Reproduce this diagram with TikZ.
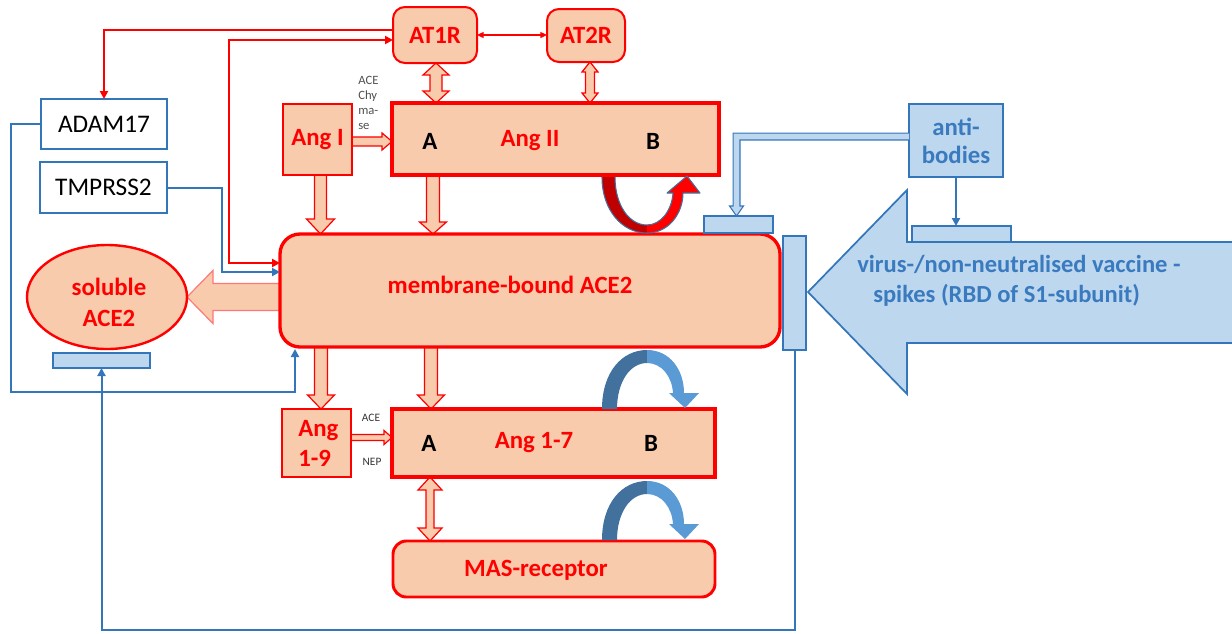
\documentclass[tikz,border=0pt]{standalone}
\usepackage{fontspec}
\setmainfont{Carlito}
\usetikzlibrary{calc,arrows.meta,shapes.geometric}
\pgfdeclarelayer{bg}
\pgfsetlayers{bg,main}

\definecolor{peach}{RGB}{248,203,173}
\definecolor{lblue}{RGB}{189,215,238}
\definecolor{bline}{RGB}{52,118,186}
\definecolor{btext}{RGB}{58,122,190}
\definecolor{dblue}{RGB}{65,113,156}
\definecolor{mblue}{RGB}{91,155,213}
\definecolor{dred}{RGB}{192,0,0}
\definecolor{lred}{RGB}{255,120,120}
\definecolor{note}{RGB}{80,80,80}

\tikzset{
  sz/.style 2 args={minimum width={(#1)*0.75pt},minimum height={(#2)*0.75pt}},
  bx0/.style={inner sep=0pt,outer sep=0pt},
  bigfont/.style={font=\fontsize{18.6}{22}\selectfont\bfseries},
  redbox/.style={bx0,draw=red,fill=peach,line width=2.3pt},
  thinred/.style={bx0,draw=red,fill=peach,line width=1.5pt},
  recbox/.style={bx0,draw=red,fill=peach,line width=1.5pt,rounded corners=9pt,bigfont,text=red},
  enzbox/.style={bx0,draw=bline,fill=white,line width=1.6pt,font=\fontsize{19}{22}\selectfont},
  bluebar/.style={bx0,draw=bline,fill=lblue,line width=1.3pt},
  redlbl/.style={bigfont,text=red,inner sep=0pt},
  blklbl/.style={bigfont,text=black,inner sep=0pt},
  bluelbl/.style={bigfont,text=btext,inner sep=0pt},
  small/.style={font=\fontsize{9.5}{11.25}\selectfont,text=note,inner sep=0pt,align=left},
  blk/.style={draw=red,fill=peach,line width=0.9pt,line join=miter},
  redline/.style={draw=red,line width=1.5pt,-{Triangle[length=6pt,width=6pt]}},
  blueline/.style={draw=bline,line width=1.5pt,-{Triangle[length=6pt,width=6pt]}},
}

% block arrows: start, end, shaft half width, head half width, head length
\newcommand\blkdown[5]{\path[blk] let \p1=(#1),\p2=(#2) in
  ({\x1-#3},\y1) -- ({\x1-#3},{\y2+#5}) -- ({\x1-#4},{\y2+#5}) -- (\x1,\y2)
  -- ({\x1+#4},{\y2+#5}) -- ({\x1+#3},{\y2+#5}) -- ({\x1+#3},\y1);}
\newcommand\blkboth[5]{\path[blk] let \p1=(#1),\p2=(#2) in
  ({\x1-#3},{\y1-#5}) -- ({\x1-#4},{\y1-#5}) -- (\x1,\y1) -- ({\x1+#4},{\y1-#5}) -- ({\x1+#3},{\y1-#5})
  -- ({\x1+#3},{\y2+#5}) -- ({\x1+#4},{\y2+#5}) -- (\x1,\y2) -- ({\x1-#4},{\y2+#5}) -- ({\x1-#3},{\y2+#5}) -- cycle;}
\newcommand\blkright[5]{\path[blk] let \p1=(#1),\p2=(#2) in
  (\x1,{\y1+#3}) -- ({\x2-#5},{\y1+#3}) -- ({\x2-#5},{\y1+#4}) -- (\x2,\y1)
  -- ({\x2-#5},{\y1-#4}) -- ({\x2-#5},{\y1-#3}) -- (\x1,{\y1-#3});}
\newcommand\blkleft[6]{\path[blk,#6] let \p1=(#1),\p2=(#2) in
  (\x1,{\y1+#3}) -- ({\x2+#5},{\y1+#3}) -- ({\x2+#5},{\y1+#4}) -- (\x2,\y1)
  -- ({\x2+#5},{\y1-#4}) -- ({\x2+#5},{\y1-#3}) -- (\x1,{\y1-#3});}
% hollow elbow arrow: horizontal from #1 leftwards, then down to #2
\newcommand\abarrow[5]{\path[draw=bline,fill=lblue,line width=0.8pt] let \p1=(#1),\p2=(#2) in
  (\x1,{\y1+#3}) -- ({\x2-#3},{\y1+#3}) -- ({\x2-#3},{\y2+#5}) -- ({\x2-#4},{\y2+#5}) -- (\x2,\y2)
  -- ({\x2+#4},{\y2+#5}) -- ({\x2+#3},{\y2+#5}) -- ({\x2+#3},{\y1-#3}) -- (\x1,{\y1-#3});}
% curled blue arrow over a box top edge
\newcommand\bluecurl[1]{\begin{scope}[shift={(0,#1)}]
  \fill[dblue] (602,409) .. controls (602,372) and (622,350) .. (647,350) -- (647,363)
    .. controls (630,363) and (617,382) .. (617,409) -- cycle;
  \fill[mblue] (647,350) .. controls (670,350) and (684,370) .. (684,393) -- (699,393) -- (685,408)
    -- (669,393) -- (673,393) .. controls (672,377) and (662,363) .. (647,363) -- cycle;
\end{scope}}

\begin{document}
\begin{tikzpicture}[x=0.75pt,y=-0.75pt]
\useasboundingbox (0,0) rectangle (1232,633);
\clip (0,0) rectangle (1232,633);

% spike protein arrow
\filldraw[fill=lblue,draw=bline,line width=1.3pt]
  (1240,242) -- (907,242) -- (907,190) -- (808,292) -- (907,394) -- (907,343) -- (1240,343);
\node[bluelbl,align=left,anchor=west,font=\fontsize{18.4}{22.5}\selectfont\bfseries] (spike) at (857,281)
  {virus-/non-neutralised vaccine -\\\hspace*{12pt}spikes (RBD of S1-subunit)};

% receptors
\node[recbox,sz={84}{56}] (at1r) at (435,35) {AT1R};
\node[recbox,sz={78}{53}] (at2r) at (586,35.5) {AT2R};

% enzymes
\node[enzbox,sz={126}{50}] (adam) at (104,124) {ADAM17};
\node[enzbox,sz={127}{51}] (tmprss) at (103.5,187.5) {TMPRSS2};

% angiotensins
\node[thinred,sz={69}{71},redlbl,text=red] (angI) at (317.5,139.5) {Ang I};
\node[redbox,sz={327}{72}] (angII) at (555.5,139) {};
\node[blklbl] (angIIa) at (430,141) {A};
\node[redlbl] (angIIt) at (530,141) {Ang II};
\node[blklbl] (angIIb) at (653,141) {B};

\node[redbox,rounded corners=15pt,line width=2.5pt,sz={500}{113}] (ace2) at (530,290.5) {};
\node[redlbl] (ace2t) at (510,285) {membrane-bound ACE2};

\node[ellipse,bx0,draw=red,fill=peach,line width=1.8pt,sz={160}{104}] (sol) at (107,297) {};
\node[redlbl,align=center,font=\fontsize{18.6}{23.25}\selectfont\bfseries] (solt) at (109,302.5) {soluble\\ACE2};
\node[bluebar,sz={97}{15}] (solbar) at (101.5,360.5) {};

\node[bx0,draw=red,fill=peach,line width=1.3pt,sz={69}{68}] (ang19) at (316.5,443) {};
\node[redlbl,align=left,anchor=west,font=\fontsize{18.6}{22.5}\selectfont\bfseries] (ang19t) at (298,443) {Ang\\1-9};
\node[redbox,sz={323}{68}] (ang17) at (553.5,443) {};
\node[blklbl] (ang17a) at (429,443) {A};
\node[redlbl] (ang17t) at (534,443) {Ang 1-7};
\node[blklbl] (ang17b) at (651,443) {B};

\node[redbox,rounded corners=10pt,line width=2.2pt,sz={322}{56}] (mas) at (554,569) {};
\node[redlbl] (mast) at (536,570) {MAS-receptor};

% antibodies and binding sites
\node[bx0,draw=bline,fill=lblue,line width=1.6pt,sz={94}{73},bluelbl,align=center,
      font=\fontsize{18.6}{21}\selectfont\bfseries] (ab) at (956,140.5) {anti-\\bodies};
\node[bluebar,sz={69}{17}] (topbar) at (738.5,224.5) {};
\node[bluebar,sz={23}{114}] (sidebar) at (794.5,293) {};
\node[bluebar,sz={99}{16}] (abbar) at (961.5,234) {};

% enzyme labels
\node[small,anchor=north west] (cat1) at (358,76) {ACE\\Chy\\ma-\\se};
\node[small,font=\fontsize{8.5}{10}\selectfont,text=black!80] (cat2) at (371,418) {ACE};
\node[small,font=\fontsize{8.5}{10}\selectfont,text=black!80] (cat3) at (372,462) {NEP};

% anchor points for the block arrows
\coordinate (aIs) at ($(angI.south)+(3,0)$);
\coordinate (aIIs) at ($(angII.south west)+(41,0)$);
\coordinate (aIIn1) at ($(angII.north west)+(44,0)$);
\coordinate (aIIn2) at ($(angII.north west)+(198,0)$);
\coordinate (acs1) at ($(ace2.south west)+(41,0)$);
\coordinate (acs2) at ($(ace2.south west)+(151,0)$);
\coordinate (a17s) at ($(ang17.south west)+(38,0)$);
\coordinate (aIe) at ($(angI.east)+(0,2)$);
\coordinate (a19e) at ($(ang19.east)+(0,-5.5)$);
\coordinate (acw) at ($(ace2.west)+(0,6.5)$);
\coordinate (abw) at ($(ab.west)+(0,-4)$);
\coordinate (tbn) at ($(topbar.north)+(-2,0)$);

\begin{pgfonlayer}{bg}
  \blkdown{aIs}{aIs |- ace2.north}{4.5pt}{10.5pt}{11.25pt}
  \blkdown{aIIs}{aIIs |- ace2.north}{4.9pt}{10.1pt}{9pt}
  \blkboth{aIIn1 |- at1r.south}{aIIn1}{4.5pt}{9.75pt}{9pt}
  \blkboth{aIIn2 |- at2r.south}{aIIn2}{3.4pt}{6pt}{7.5pt}
  \blkdown{acs1}{acs1 |- ang19.north}{4.9pt}{10.1pt}{10.5pt}
  \blkdown{acs2}{acs2 |- ang17.north}{4.9pt}{10.1pt}{10.5pt}
  \blkboth{a17s}{a17s |- mas.north}{3pt}{9pt}{9.75pt}
  \blkright{aIe}{aIe -| angII.west}{3.4pt}{6.4pt}{7.5pt}
  \blkright{a19e}{a19e -| ang17.west}{2.25pt}{5.25pt}{6pt}
  \blkleft{acw}{acw -| sol.east}{10.1pt}{19.9pt}{19.5pt}{draw=lred}
\end{pgfonlayer}

\abarrow{abw}{tbn}{2.6pt}{5.25pt}{7.5pt}

% red signalling lines
\coordinate (r1) at ($(at1r.north west)+(0,33)$);
\coordinate (r2) at ($(ace2.north west)+(0,29)$);
\draw[redline] ($(at1r.north west)+(0,23)$) -| (adam.north);
\draw[redline,{Triangle[length=6pt,width=6pt]}-{Triangle[length=6pt,width=6pt]}]
  (r2) -| ($(r1)+(-164,0)$) -- (r1);
\draw[red,line width=0.9pt,{Triangle[length=5pt,width=4.5pt]}-{Triangle[length=5pt,width=4.5pt]}]
  (at1r.east) -- (at1r.east -| at2r.west);

% blue lines
\coordinate (b1) at ($(ace2.north west)+(0,38)$);
\draw[blueline] (tmprss.east) -- ++(55,0) |- (b1);
\draw[blueline] (adam.west) -- ++(-30,0) |- ($(ace2.south west)+(15,45)$) -- ($(ace2.south west)+(15,2)$);
\draw[blueline] (sidebar.south) -- ++(0,280) -| (solbar.south);
\draw[blueline,line width=1.8pt] (ab.south) -- (ab.south |- abbar.north);

% curled arrows
\fill[dred] (602,177) .. controls (602,210) and (622,233) .. (647,233) -- (647,225)
  .. controls (629,225) and (615,205) .. (615,177) -- cycle;
\fill[red] (647,233) .. controls (669,233) and (683,213) .. (683,193) -- (700,193) -- (687,176)
  -- (667,193) -- (673,193) .. controls (672,210) and (661,225) .. (647,225) -- cycle;
\draw[dblue,line width=0.8pt,line join=round]
  (602,177) .. controls (602,210) and (622,233) .. (647,233)
  .. controls (669,233) and (683,213) .. (683,193) -- (700,193) -- (687,176) -- (667,193) -- (673,193)
  .. controls (672,210) and (661,225) .. (647,225) .. controls (629,225) and (615,205) .. (615,177);
\bluecurl{0}
\bluecurl{131}
\end{tikzpicture}
\end{document}
